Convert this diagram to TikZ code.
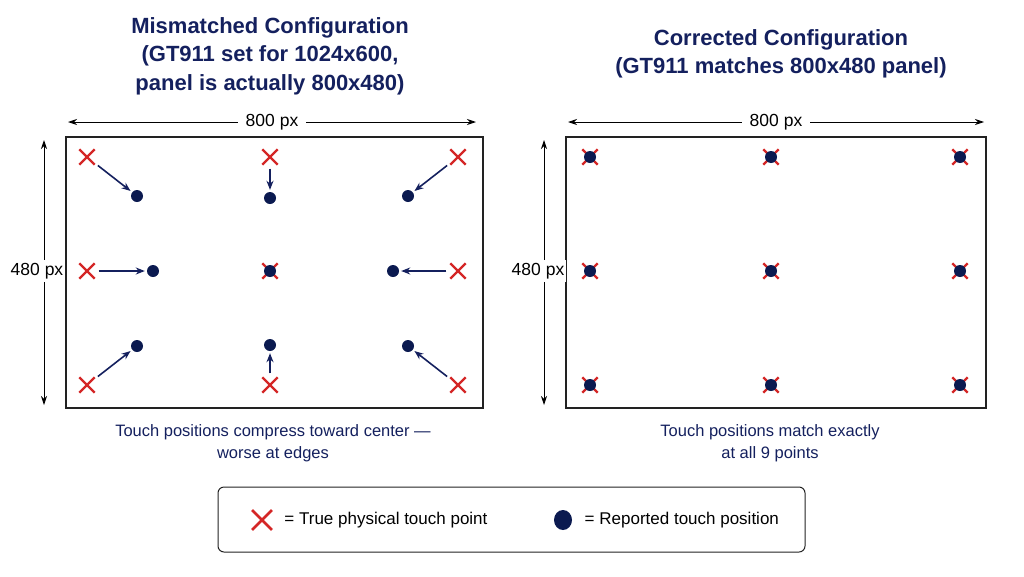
\documentclass[tikz,border=0pt]{standalone}
\usepackage{fontspec}
\setmainfont{Liberation Sans}
\usetikzlibrary{positioning,arrows.meta,shapes.misc,shapes.geometric}
\definecolor{navy}{HTML}{14205E}
\definecolor{dotblue}{HTML}{0B1A50}
\definecolor{touchred}{HTML}{D42626}
\definecolor{framegray}{HTML}{222222}
\tikzset{
  title/.style={
    font=\fontsize{22}{28.5}\selectfont\bfseries, text=navy, align=center
  },
  caption/.style={
    font=\fontsize{16.5}{22}\selectfont, text=navy, align=center
  },
  panel/.style={
    draw=framegray, line width=2pt
  },
  truept/.style={
    cross out, draw=touchred, line width=2.4pt,
    minimum size=13pt, inner sep=0pt
  },
  reppt/.style={
    circle, fill=dotblue, minimum size=12pt, inner sep=0pt
  },
  arr/.style={
    -{Stealth[length=9pt,width=7pt]}, line width=1.6pt, navy,
    shorten <=4pt, shorten >=2pt
  },
  dimarr/.style={
    {Stealth[length=9pt,width=6pt]}-{Stealth[length=9pt,width=6pt]},
    line width=0.9pt, black
  },
  dimlabel/.style={
    font=\fontsize{17.5}{20}\selectfont, fill=white, inner xsep=8pt, inner ysep=3pt
  }
}

\begin{document}
\begin{tikzpicture}[x=1pt,y=-1pt]
\useasboundingbox (0,0) rectangle (1024,576);

% titles
\node[title] (ttlL) at (270,56) {Mismatched Configuration\\(GT911 set for 1024x600,\\panel is actually 800x480)};
\node[title] (ttlR) at (781,54) {Corrected Configuration\\(GT911 matches 800x480 panel)};

% panels
\draw[panel] (66,137) rectangle (483,408);
\draw[panel] (566,137) rectangle (986,408);

% dimensions
\coordinate (wL1) at (68,122);
\coordinate (wL2) at (476,122);
\draw[dimarr] (wL1) -- node[dimlabel] (wlabL) {800 px} (wL2);
\coordinate (hL1) at (44,140);
\coordinate (hL2) at (44,405);
\draw[dimarr] (hL1) -- (hL2);
\node[dimlabel, inner xsep=2pt] (hlabL) at (37,271) {480 px};

\coordinate (wR1) at (568,122);
\coordinate (wR2) at (984,122);
\draw[dimarr] (wR1) -- node[dimlabel] (wlabR) {800 px} (wR2);
\coordinate (hR1) at (544,140);
\coordinate (hR2) at (544,405);
\draw[dimarr] (hR1) -- (hR2);
\node[dimlabel, inner xsep=2pt] (hlabR) at (538,271) {480 px};

% mismatched: true points and reported points
\foreach \i/\tx/\ty/\rx/\ry in {1/87/157/137/196, 2/270/157/270/198, 3/458/157/408/196,
                               4/87/271/153/271, 5/270/271/270/271, 6/458/271/393/271,
                               7/87/385/137/346, 8/270/385/270/345, 9/458/385/408/346} {
  \node[truept] (mt\i) at (\tx,\ty) {};
  \node[reppt] (mr\i) at (\rx,\ry) {};
}
\foreach \i in {1,2,3,4,6,7,8,9}
  \draw[arr] (mt\i) -- (mr\i);

% corrected: both coincide
\foreach \i/\px/\py in {1/590/157, 2/771/157, 3/960/157,
                        4/590/271, 5/771/271, 6/960/271,
                        7/590/385, 8/771/385, 9/960/385} {
  \node[truept] (ct\i) at (\px,\py) {};
  \node[reppt] (cr\i) at (\px,\py) {};
}

% captions
\node[caption] (capL) at (273,443) {Touch positions compress toward center —\\worse at edges};
\node[caption] (capR) at (770,443) {Touch positions match exactly\\at all 9 points};

% legend
\draw[framegray, line width=1pt, rounded corners=6pt] (218,487) rectangle (805,552);
\node[truept, minimum size=17pt, line width=2.8pt] (legT) at (262,520) {};
\node[caption, text=black, font=\fontsize{17}{22}\selectfont, right=9pt of legT] (legTtxt) {= True physical touch point};
\node[reppt, ellipse, minimum width=18pt, minimum height=20pt] (legR) at (563,520) {};
\node[caption, text=black, font=\fontsize{17}{22}\selectfont, right=9pt of legR] (legRtxt) {= Reported touch position};
\end{tikzpicture}
\end{document}
